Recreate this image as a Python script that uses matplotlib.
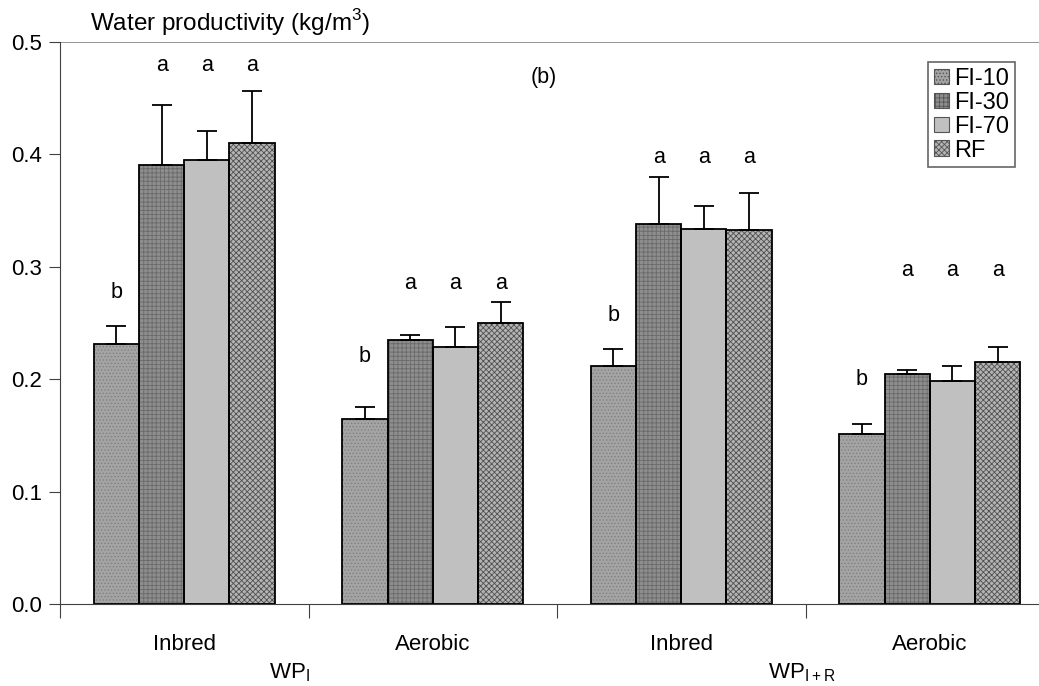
import matplotlib.pyplot as plt
import numpy as np

plt.rcParams['font.family'] = ['Liberation Sans', 'DejaVu Sans']
plt.rcParams['hatch.linewidth'] = 0.6

groups = ['Inbred', 'Aerobic', 'Inbred', 'Aerobic']
series = ['FI-10', 'FI-30', 'FI-70', 'RF']

# rows = series, columns = groups
means = [
    [0.231, 0.165, 0.212, 0.151],
    [0.391, 0.235, 0.338, 0.205],
    [0.395, 0.229, 0.334, 0.198],
    [0.410, 0.250, 0.333, 0.215],
]
err_top = [
    [0.247, 0.175, 0.227, 0.160],
    [0.444, 0.239, 0.380, 0.208],
    [0.421, 0.246, 0.354, 0.212],
    [0.456, 0.269, 0.366, 0.229],
]
letters = [
    ['b', 'b', 'b', 'b'],
    ['a', 'a', 'a', 'a'],
    ['a', 'a', 'a', 'a'],
    ['a', 'a', 'a', 'a'],
]
letter_y = [
    [0.277, 0.220, 0.257, 0.200],
    [0.479, 0.285, 0.397, 0.297],
    [0.479, 0.285, 0.397, 0.297],
    [0.479, 0.285, 0.397, 0.297],
]

faces = ['#a4a4a4', '#8e8e8e', '#c0c0c0', '#b4b4b4']
hatches = ['.....', '++++', None, 'xxxxxx']
hcolors = ['#808080', '#6a6a6a', None, '#505050']

fig = plt.figure(figsize=(10.39, 6.86), dpi=100)
ax = fig.add_axes([60 / 1039, 82 / 686, 994 / 1039, 562 / 686])

x = np.arange(len(groups))
w = 0.182
for i, s in enumerate(series):
    xs = x + (i - 1.5) * w
    ax.bar(xs, means[i], w, color=faces[i], hatch=hatches[i],
           edgecolor=hcolors[i] if hatches[i] else faces[i], linewidth=0, zorder=2)
    ax.bar(xs, means[i], w, fill=False, edgecolor='black', linewidth=1.3, zorder=3)
    ax.bar(0, 0, 0, color=faces[i], hatch=hatches[i],
           edgecolor='#555555', linewidth=0.8, label=s)
    yerr = np.array(err_top[i]) - np.array(means[i])
    ax.errorbar(xs, means[i], yerr=[np.zeros(4), yerr], fmt='none',
                ecolor='black', elinewidth=1.3, capsize=7, capthick=1.3, zorder=4)
    for j in range(len(groups)):
        ax.text(xs[j], letter_y[i][j], letters[i][j], ha='center', va='center',
                fontsize=15.5)

ax.set_xlim(-0.5, 3.5)
ax.set_ylim(0, 0.5)
ax.set_yticks(np.arange(0, 0.51, 0.1))
ax.set_yticklabels(['%.1f' % v for v in np.arange(0, 0.51, 0.1)], fontsize=16)
ax.set_xticks([-0.5, 0.5, 1.5, 2.5])
ax.set_xticklabels([])
ax.tick_params(axis='x', direction='out', length=10, color='#404040')
ax.tick_params(axis='y', direction='out', length=8, color='#404040', pad=5)
ax.axhline(0.5, color='#808080', linewidth=1.2, zorder=1)
ax.spines['top'].set_visible(False)
ax.spines['right'].set_visible(False)
ax.spines['left'].set_color('#404040')
ax.spines['bottom'].set_color('#404040')

for j, g in enumerate(groups):
    ax.text(x[j], -0.036, g, ha='center', va='center', fontsize=16)
ax.text(0.424, -0.061, r'WP$_\mathregular{I}$', ha='center', va='center', fontsize=16)
ax.text(2.484, -0.061, r'WP$_\mathregular{I+R}$', ha='center', va='center', fontsize=16)

fig.text(90 / 1039, 1 - 23 / 686, r'Water productivity (kg/m$^\mathregular{3}$)',
         ha='left', va='center', fontsize=17.5)
ax.text(1.448, 0.468, '(b)', ha='center', va='center', fontsize=15.5)

leg = ax.legend(loc='upper left', bbox_to_anchor=(928 / 1039, 1 - 62 / 686),
                bbox_transform=fig.transFigure, fontsize=17, frameon=True,
                fancybox=False, edgecolor='#404040', handlelength=0.65,
                handleheight=0.65, handletextpad=0.2, labelspacing=0.08,
                borderpad=0.25, borderaxespad=0)
leg.get_frame().set_linewidth(1.2)

fig.savefig('out.png', dpi=100)
